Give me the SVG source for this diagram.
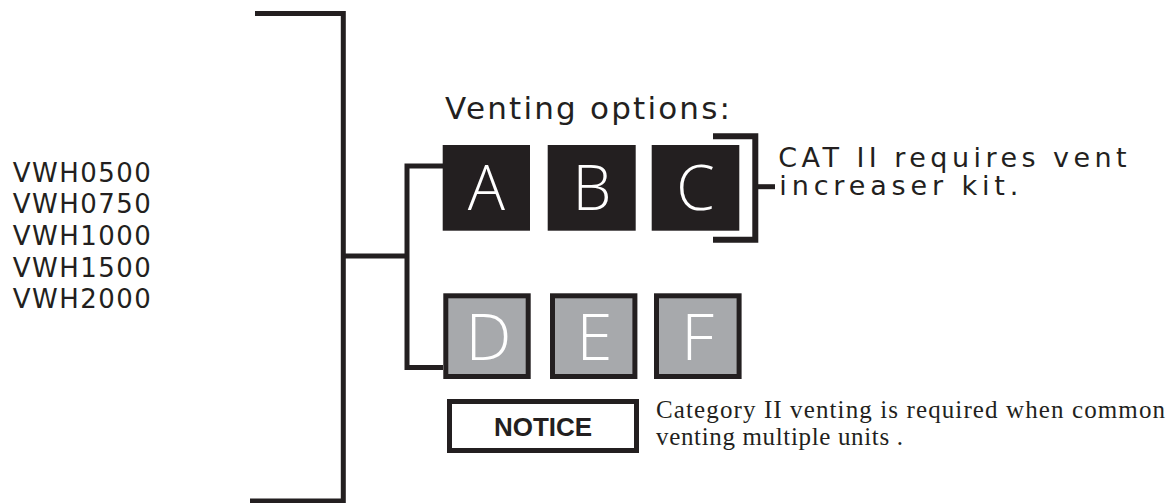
<svg xmlns="http://www.w3.org/2000/svg" width="1170" height="503" viewBox="0 0 1170 503">
<style>
.ln{fill:none;stroke:#231f20;stroke-linecap:butt;stroke-linejoin:miter}
.sans{font-family:"DejaVu Sans","Liberation Sans",Arial,sans-serif;fill:#231f20}
.big{font-family:"Open Sans","Liberation Sans",Arial,sans-serif;font-weight:300;fill:#ffffff;text-anchor:middle}
.blk{fill:#231f20}
.gry{fill:#a7a9ac;stroke:#231f20;stroke-width:5}
.serif{font-family:"Liberation Serif","Times New Roman",serif;fill:#231f20;font-size:25px}
</style>
<rect width="1170" height="503" fill="#ffffff"/>
<g id="connectors">
<polyline class="ln" stroke-width="5" points="255,13.5 343.3,13.5 343.3,501 250,501"/>
<line class="ln" stroke-width="5" x1="343.3" y1="256" x2="407" y2="256"/>
<polyline class="ln" stroke-width="5" points="443,166 407,166 407,367.5 443,367.5"/>
<polyline class="ln" stroke-width="6" points="713,136.3 755.3,136.3 755.3,239.7 713,239.7"/>
<line class="ln" stroke-width="5" x1="755" y1="186.7" x2="775" y2="186.7"/>
</g>
<g id="models">
<text class="sans" font-size="26" x="12.7" y="181.7" textLength="138" lengthAdjust="spacing">VWH0500</text>
<text class="sans" font-size="26" x="12.7" y="213.3" textLength="138" lengthAdjust="spacing">VWH0750</text>
<text class="sans" font-size="26" x="12.7" y="245" textLength="138" lengthAdjust="spacing">VWH1000</text>
<text class="sans" font-size="26" x="12.7" y="276.7" textLength="138" lengthAdjust="spacing">VWH1500</text>
<text class="sans" font-size="26" x="12.7" y="307.5" textLength="138" lengthAdjust="spacing">VWH2000</text>
</g>
<g id="title">
<text class="sans" font-size="31" x="445" y="119" textLength="285" lengthAdjust="spacing">Venting options:</text>
</g>
<g id="optA"><rect class="blk" x="442.7" y="145" width="87.3" height="85.7"/><text class="big" font-size="62" x="486.3" y="210">A</text></g>
<g id="optB"><rect class="blk" x="547.7" y="145" width="88" height="85.7"/><text class="big" font-size="62" x="592" y="210">B</text></g>
<g id="optC"><rect class="blk" x="651.7" y="145" width="87.6" height="85.7"/><text class="big" font-size="62" x="695.5" y="210">C</text></g>
<g id="cat-note">
<text class="sans" font-size="27" x="778.3" y="166.7" textLength="348.4" lengthAdjust="spacing">CAT II requires vent</text>
<text class="sans" font-size="27" x="779.3" y="195" textLength="239" lengthAdjust="spacing">increaser kit.</text>
</g>
<g id="optD"><rect class="gry" x="445.8" y="295.8" width="82.4" height="80.7"/><text class="big" font-size="65" x="488.5" y="360">D</text></g>
<g id="optE"><rect class="gry" x="552.5" y="295.8" width="82.4" height="80.7"/><text class="big" font-size="65" x="594.5" y="360">E</text></g>
<g id="optF"><rect class="gry" x="656.5" y="295.8" width="82.6" height="80.7"/><text class="big" font-size="65" x="697.5" y="360">F</text></g>
<g id="notice">
<rect x="449.5" y="401.5" width="187" height="49" fill="#ffffff" stroke="#231f20" stroke-width="5"/>
<text x="543" y="436" font-family="'Liberation Sans',Arial,sans-serif" font-weight="bold" font-size="26" fill="#231f20" text-anchor="middle">NOTICE</text>
</g>
<g id="notice-text">
<text class="serif" x="656" y="418" textLength="509" lengthAdjust="spacing">Category II venting is required when common</text>
<text class="serif" x="656" y="445" textLength="247" lengthAdjust="spacing">venting multiple units .</text>
</g>
</svg>
